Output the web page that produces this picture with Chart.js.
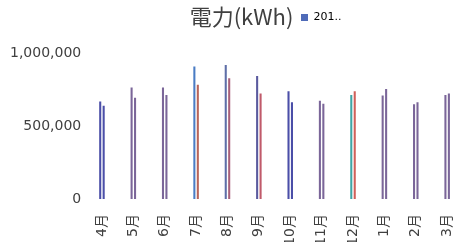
<!DOCTYPE html>
<html>
<head>
<meta charset="utf-8">
<script src="https://cdn.jsdelivr.net/npm/chart.js@4.4.1/dist/chart.umd.min.js"></script>
<style>
  html, body { margin: 0; padding: 0; background: #fff; overflow: hidden; }
  canvas { display: block; }
</style>
</head>
<body>
<canvas id="chart" width="479" height="242" style="width:479px;height:242px"></canvas>
<script>
var months = ['4月', '5月', '6月', '7月', '8月', '9月', '10月', '11月', '12月', '1月', '2月', '3月'];
var series1 = [670000, 765000, 765000, 910000, 920000, 845000, 740000, 675000, 715000, 710000, 650000, 715000];
var series2 = [640000, 695000, 715000, 785000, 830000, 725000, 665000, 655000, 740000, 755000, 665000, 725000];
var yTicks = [0, 500000, 1000000];
var titleText = '電力(kWh)';
var legendText = '201..';

// bar colours as they appear in the picture
var colors1 = ['#4b4fa8', '#7b6699', '#7b6699', '#4a7cc4', '#5f6fa8', '#5a5a9e', '#4b4fa8', '#7b6699', '#3fa5a5', '#7b6699', '#7b6699', '#7b6699'];
var colors2 = ['#4b4fa8', '#7b6699', '#7b6699', '#b8645a', '#a8607a', '#c05a6a', '#4b4fa8', '#7b6699', '#d0605a', '#7b6699', '#7b6699', '#7b6699'];

var font = "'DejaVu Sans', 'Noto Sans CJK JP', sans-serif";

// put the legend on the same line as the title
var moveLegend = {
  id: 'moveLegend',
  afterLayout: function(chart) {
    var lg = chart.legend;
    var h = lg.height;
    lg.left = 298;
    lg.top = 9;
    lg.width = 120;
    lg.right = lg.left + lg.width;
    lg.bottom = lg.top + h;
  }
};

function drawChart() {
  var ctx = document.getElementById('chart').getContext('2d');
  new Chart(ctx, {
    type: 'bar',
    data: {
      labels: months,
      datasets: [
        { label: legendText, data: series1, backgroundColor: colors1, borderWidth: 0 },
        { label: legendText, data: series2, backgroundColor: colors2, borderWidth: 0 }
      ]
    },
    options: {
      responsive: false,
      animation: false,
      devicePixelRatio: 1,
      locale: 'en-US',
      categoryPercentage: 0.22,
      barPercentage: 0.6,
      layout: { padding: { left: 5, right: 1, top: 0, bottom: 0 } },
      plugins: {
        title: {
          display: true,
          text: titleText,
          color: '#404040',
          font: { family: "'Noto Sans CJK JP', sans-serif", size: 22, weight: 'normal' },
          padding: { top: 3, bottom: 24 }
        },
        legend: {
          position: 'chartArea',
          align: 'start',
          labels: {
            boxWidth: 7,
            boxHeight: 7,
            padding: 3,
            color: '#404040',
            font: { family: font, size: 11 },
            filter: function(item) { return item.datasetIndex === 0; },
            generateLabels: function(chart) {
              return [{ text: legendText, fillStyle: '#4f6bb8', strokeStyle: '#4f6bb8', lineWidth: 0, datasetIndex: 0 }];
            }
          }
        },
        tooltip: { enabled: false }
      },
      scales: {
        x: {
          grid: { display: false, drawTicks: false },
          border: { display: false },
          afterFit: function(scale) {
            scale.height = 43;
          },
          ticks: {
            color: '#404040',
            font: { family: font, size: 14 },
            minRotation: 90,
            maxRotation: 90,
            padding: 15,
            autoSkip: false
          }
        },
        y: {
          min: 0,
          max: 1000000,
          grid: { display: false, drawTicks: false },
          border: { display: false },
          afterBuildTicks: function(scale) {
            scale.ticks = yTicks.map(function(v) { return { value: v }; });
          },
          ticks: {
            color: '#404040',
            font: { family: font, size: 14 },
            padding: 5
          }
        }
      }
    },
    plugins: [moveLegend]
  });
}

window.onload = function() {
  drawChart();
};
</script>
</body>
</html>
